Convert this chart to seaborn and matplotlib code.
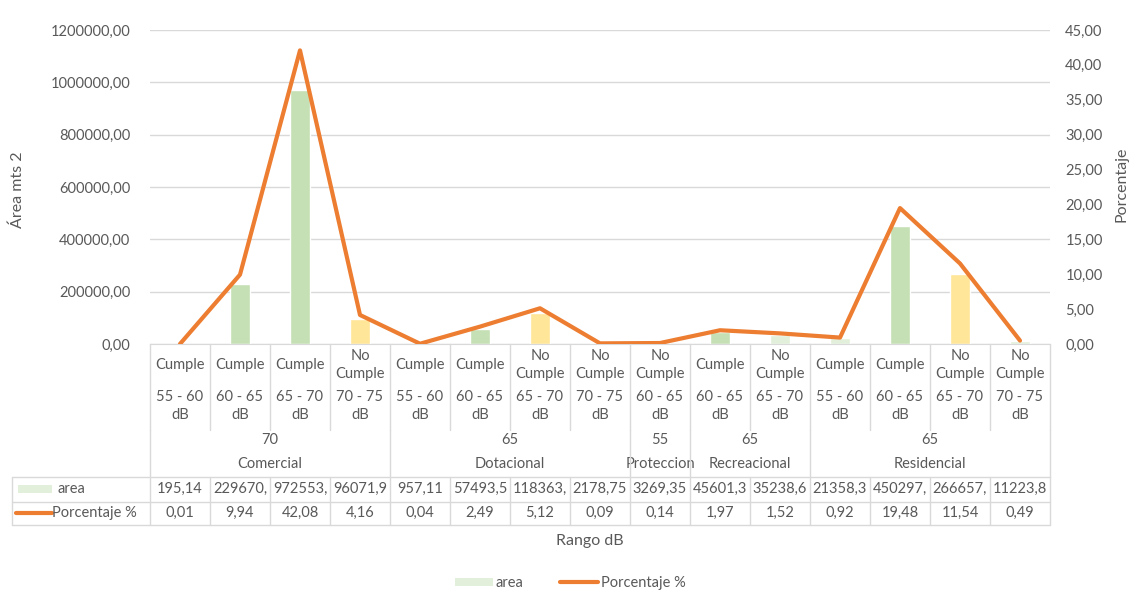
import numpy as np
import pandas as pd
import matplotlib
matplotlib.use('Agg')
import matplotlib.pyplot as plt
import matplotlib.transforms as mtransforms
from matplotlib.patches import Patch, Rectangle
from matplotlib.lines import Line2D
from matplotlib.ticker import FuncFormatter, MultipleLocator
import seaborn as sns

''' DATA '''
estado = ['Cumple', 'Cumple', 'Cumple', 'No\nCumple',
          'Cumple', 'Cumple', 'No\nCumple', 'No\nCumple',
          'No\nCumple',
          'Cumple', 'No\nCumple',
          'Cumple', 'Cumple', 'No\nCumple', 'No\nCumple']
rango = ['55 - 60', '60 - 65', '65 - 70', '70 - 75',
         '55 - 60', '60 - 65', '65 - 70', '70 - 75',
         '60 - 65',
         '60 - 65', '65 - 70',
         '55 - 60', '60 - 65', '65 - 70', '70 - 75']
grupos = ['Comercial', 'Dotacional', 'Proteccion', 'Recreacional', 'Residencial']
grupo_limite = ['70', '65', '55', '65', '65']
grupo_n = [4, 4, 1, 2, 4]
area = [195.14, 229670, 972553, 96071.9, 957.11, 57493.5, 118363, 2178.75,
        3269.35, 45601.3, 35238.6, 21358.3, 450297, 266657, 11223.8]
area_txt = ['195,14', '229670,', '972553,', '96071,9', '957,11', '57493,5', '118363,',
            '2178,75', '3269,35', '45601,3', '35238,6', '21358,3', '450297,', '266657,', '11223,8']
porcentaje = [0.01, 9.94, 42.08, 4.16, 0.04, 2.49, 5.12, 0.09,
              0.14, 1.97, 1.52, 0.92, 19.48, 11.54, 0.49]

''' STYLE '''
verde = '#C5E0B4'
verde_claro = '#E2EFDA'
amarillo = '#FFE699'
naranja = '#ED7D31'
gris_txt = '#595959'
gris_lin = '#D9D9D9'
colores = [verde_claro, verde, verde, amarillo, verde_claro, verde, amarillo, verde_claro,
           verde_claro, verde, verde_claro, verde_claro, verde, amarillo, verde_claro]

sns.set_style('white')
plt.rcParams['font.family'] = ['Lato', 'DejaVu Sans']
fs = 10.5

W, H = 1139, 602
def fx(px):
    return px / W
def fy(py):
    return 1 - py / H

df = pd.DataFrame({'pos': [str(i) for i in range(len(area))], 'area': area,
                   'x': np.arange(len(area)), 'pct': porcentaje})

fig = plt.figure(figsize=(W / 100, H / 100), dpi=100)
ax = fig.add_axes([fx(150), fy(344), fx(1050) - fx(150), fy(30) - fy(344)])
sns.barplot(data=df, x='pos', y='area', hue='pos', palette=colores, legend=False,
            width=0.32, ax=ax, saturation=1)
ax.set_xlim(-0.5, len(area) - 0.5)
ax.set_ylim(0, 1200000)
ax.yaxis.set_major_locator(MultipleLocator(200000))
ax.yaxis.set_major_formatter(FuncFormatter(lambda v, p: f'{v:.2f}'.replace('.', ',')))
ax.grid(axis='y', color=gris_lin, lw=1)
ax.set_axisbelow(True)
ax.set_xticks([])
ax.set_xlabel('')
ax.set_ylabel('')
ax.tick_params(axis='y', length=0, pad=14, labelsize=fs, labelcolor=gris_txt)
for s in ['top', 'left', 'right']:
    ax.spines[s].set_visible(False)
ax.spines['bottom'].set_color(gris_lin)

ax2 = ax.twinx()
sns.lineplot(data=df, x='x', y='pct', color=naranja, lw=3, ax=ax2)
ax2.set_ylim(0, 45)
ax2.yaxis.set_major_locator(MultipleLocator(5))
ax2.yaxis.set_major_formatter(FuncFormatter(lambda v, p: f'{v:.2f}'.replace('.', ',')))
ax2.tick_params(axis='y', length=0, pad=11, labelsize=fs, labelcolor=gris_txt)
ax2.set_xlabel('')
ax2.set_ylabel('')
for s in ax2.spines.values():
    s.set_visible(False)
ax2.set_xlim(-0.5, len(area) - 0.5)

''' TABLE '''
tr = mtransforms.blended_transform_factory(ax.transData, fig.transFigure)
n = len(area)

def vline(x, y0, y1, trans=tr):
    fig.add_artist(Line2D([x, x], [fy(y0), fy(y1)], transform=trans, color=gris_lin, lw=1))

for i in range(n):
    ax.text(i, fy(365), estado[i], transform=tr, ha='center', va='center',
            fontsize=fs, color=gris_txt, linespacing=1.3)
    ax.text(i, fy(406), rango[i] + '\ndB', transform=tr, ha='center', va='center',
            fontsize=fs, color=gris_txt, linespacing=1.3)
    ax.text(i, fy(489), area_txt[i], transform=tr, ha='center', va='center',
            fontsize=fs, color=gris_txt)
    ax.text(i, fy(513), f'{porcentaje[i]:.2f}'.replace('.', ','), transform=tr,
            ha='center', va='center', fontsize=fs, color=gris_txt)

for b in range(n + 1):
    vline(b - 0.5, 344, 430)
    vline(b - 0.5, 477, 525)

start = 0
bounds = [-0.5]
for g, lim, k in zip(grupos, grupo_limite, grupo_n):
    c = start + (k - 1) / 2
    ax.text(c, fy(440), lim, transform=tr, ha='center', va='center', fontsize=fs, color=gris_txt)
    ax.text(c, fy(464), g, transform=tr, ha='center', va='center', fontsize=fs, color=gris_txt)
    start += k
    bounds.append(start - 0.5)
for b in bounds:
    vline(b, 430, 477)

for yy in [477, 502, 525]:
    fig.add_artist(Line2D([fx(12), fx(1050)], [fy(yy), fy(yy)], color=gris_lin, lw=1))
fig.add_artist(Line2D([fx(12), fx(12)], [fy(477), fy(525)], color=gris_lin, lw=1))

# legend keys inside table
fig.add_artist(Rectangle((fx(18), fy(493)), fx(52) - fx(18), fy(485) - fy(493),
                         color=verde_claro, lw=0))
fig.text(fx(57), fy(489), 'area', ha='left', va='center', fontsize=fs, color=gris_txt)
fig.add_artist(Line2D([fx(16), fx(52)], [fy(513), fy(513)], color=naranja, lw=3,
                      solid_capstyle='round'))
fig.text(fx(52), fy(513), 'Porcentaje %', ha='left', va='center', fontsize=fs, color=gris_txt)

''' TITLES '''
fig.text(fx(18), fy(190), 'Área mts 2', rotation=90, ha='center', va='center',
         fontsize=11.5, color=gris_txt)
fig.text(fx(1122), fy(184), 'Porcentaje', rotation=90, ha='center', va='center',
         fontsize=11.5, color=gris_txt)
fig.text(fx(590), fy(541), 'Rango dB', ha='center', va='center', fontsize=11.5, color=gris_txt)

handles = [Patch(facecolor=verde_claro, edgecolor='none'),
           Line2D([0], [0], color=naranja, lw=3)]
fig.legend(handles, ['area', 'Porcentaje %'], loc='center', bbox_to_anchor=(fx(570), fy(583)),
           ncol=2, frameon=False, fontsize=fs, labelcolor=gris_txt, handlelength=2.6,
           handleheight=0.5, columnspacing=2.5, handletextpad=0.2)

plt.savefig('out.png', dpi=100)
